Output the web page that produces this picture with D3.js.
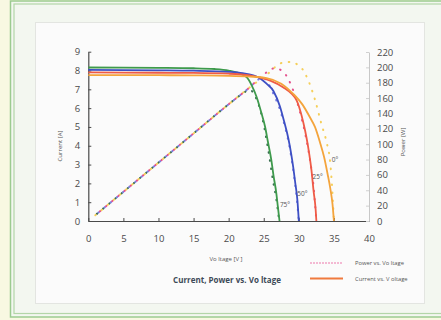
<!DOCTYPE html>
<html>
<head>
<meta charset="utf-8">
<script src="https://cdn.jsdelivr.net/npm/d3@7/dist/d3.min.js"></script>
<style>
  html, body { margin: 0; padding: 0; background: #f8f8e2; }
  svg { display: block; }
</style>
</head>
<body>
<svg id="chart" width="441" height="320"></svg>
<script>
// Temperature series labels
const temps = ["0°", "25°", "50°", "75°"];

// Current vs. voltage, one voltage list and one current list per temperature
const ivV0  = [0, 5, 10, 15, 20, 23, 25.4, 27.5, 29.2, 30.5, 31.6, 32.3, 33.0, 33.6, 34.1, 34.5, 34.8, 35.0];
const ivI0  = [7.76, 7.76, 7.75, 7.74, 7.72, 7.68, 7.6, 7.3, 6.76, 6.2, 5.5, 5.0, 4.2, 3.4, 2.5, 1.7, 0.9, 0];
const ivV25 = [0, 5, 10, 15, 20, 23, 24.5, 26, 27.8, 29.0, 29.7, 30.4, 30.9, 31.3, 31.8, 32.1, 32.4, 32.5];
const ivI25 = [7.9, 7.89, 7.88, 7.87, 7.83, 7.74, 7.62, 7.45, 7.1, 6.75, 6.4, 5.6, 4.8, 4.0, 2.7, 1.6, 0.6, 0];
const ivV50 = [0, 5, 10, 15, 20, 22, 23.5, 24.5, 25.4, 26.4, 27.3, 27.9, 28.5, 28.9, 29.2, 29.5, 29.8, 30.0];
const ivI50 = [8.03, 8.02, 8.01, 7.99, 7.93, 7.86, 7.74, 7.58, 7.3, 6.9, 6.1, 5.3, 4.4, 3.6, 2.87, 2.0, 1.1, 0];
const ivV75 = [0, 5, 10, 15, 18, 20, 21.5, 22.6, 23.3, 24.0, 24.7, 25.2, 25.6, 26.1, 26.4, 26.8, 27.0, 27.25];
const ivI75 = [8.16, 8.15, 8.14, 8.12, 8.08, 8.0, 7.86, 7.63, 7.2, 6.58, 5.7, 5.0, 4.2, 3.2, 2.4, 1.46, 0.8, 0];

// Power vs. voltage, one voltage list and one power list per temperature
const pvV0  = [1, 5, 10, 15, 20, 23, 25.9, 27.3, 28.7, 30.2, 31.3, 32.3, 33.2, 34.0, 34.4, 34.7, 35.0];
const pvP0  = [7.5, 38, 76, 114, 152, 174, 194, 205, 207, 201, 184, 158, 127, 101, 82, 50, 0];
const pvV25 = [1, 5, 10, 15, 20, 23, 24.9, 26.6, 27.8, 29.2, 30.1, 30.9, 31.6, 32.1, 32.4, 32.5];
const pvP25 = [7.6, 38, 76, 114, 152, 174, 190, 199, 194, 170, 144, 114, 79, 45, 12, 0];
const pvV50 = [1, 5, 10, 15, 20, 23, 24.2, 24.9, 25.6, 26.35, 27.1, 27.8, 28.7, 29.3, 29.7, 30.0];
const pvP50 = [7.6, 38, 76, 114, 152, 174, 184, 187, 180, 166, 150, 130, 95, 60, 30, 0];
const pvV75 = [1, 5, 10, 15, 20, 22, 23, 23.8, 24.7, 25.6, 26.35, 26.8, 27.2];
const pvP75 = [7.6, 38, 76, 114, 152, 166, 171, 162, 138, 95, 51, 28, 0];

// Axis ticks
const xTicks = [0, 5, 10, 15, 20, 25, 30, 35, 40];
const yTicks = [0, 1, 2, 3, 4, 5, 6, 7, 8, 9];
const pTicks = [0, 20, 40, 60, 80, 100, 120, 140, 160, 180, 200, 220];

// Series styling
const ivColors = ["#f4a43c", "#ef5b46", "#3d4fc4", "#3e9a4c"];
const pvColors = ["#f5cf5a", "#e4508c", "#7b7fe0", "#3a6e52"];
const ivSets = [[ivV0, ivI0], [ivV25, ivI25], [ivV50, ivI50], [ivV75, ivI75]];
const pvSets = [[pvV0, pvP0], [pvV25, pvP25], [pvV50, pvP50], [pvV75, pvP75]];
// Temperature tag positions in data units (left edge of the text)
const labelAt = [[34.7, 3.28], [31.95, 2.35], [29.77, 1.43], [27.3, 0.85]];

const svg = d3.select("#chart");
const FONT = "'Open Sans', 'Noto Sans', sans-serif";

// Frame and panel
svg.append("rect").attr("x", 10.5).attr("y", 1).attr("width", 450).attr("height", 316)
  .attr("fill", "#f3f7f0").attr("stroke", "#9ccb90").attr("stroke-width", 1.5);
svg.append("rect").attr("x", 14).attr("y", 4).attr("width", 450).attr("height", 309.5)
  .attr("fill", "none").attr("stroke", "#b3d6a8").attr("stroke-width", 1.2);
svg.append("rect").attr("x", 35.5).attr("y", 22.5).attr("width", 389).attr("height", 281)
  .attr("fill", "#fbfbfb").attr("stroke", "#e3e5e1").attr("stroke-width", 1);

const x = d3.scaleLinear().domain([0, 40]).range([88.3, 369]);
const y = d3.scaleLinear().domain([0, 9]).range([221, 51.7]);
const yP = d3.scaleLinear().domain([0, 220]).range([221, 52]);

// Axes
const gx = svg.append("g").attr("transform", "translate(0,221)")
  .call(d3.axisBottom(x).tickValues(xTicks).tickSizeInner(-3).tickSizeOuter(0).tickPadding(14));
const gy = svg.append("g").attr("transform", "translate(88.3,0)")
  .call(d3.axisLeft(y).tickValues(yTicks).tickSizeInner(-3).tickSizeOuter(0).tickPadding(8));
const gp = svg.append("g").attr("transform", "translate(369,0)")
  .call(d3.axisRight(yP).tickValues(pTicks).tickSizeInner(-3).tickSizeOuter(0).tickPadding(8));

[gx, gy].forEach(g => {
  g.select(".domain").attr("stroke", "#4a4a4a").attr("stroke-width", 1.2);
  g.selectAll(".tick line").attr("stroke", "#4a4a4a");
});
gp.select(".domain").attr("stroke", "#c8c8c8");
gp.selectAll(".tick line").attr("stroke", "#d0d0d0");
[gx, gy, gp].forEach(g => {
  g.selectAll(".tick text").attr("font-family", FONT).attr("font-size", 9.5).attr("fill", "#4a4a4a");
});

// Power curves (dotted), coolest first so the warm dots sit on top
const linePV = d3.line().x(d => x(d[0])).y(d => yP(d[1])).curve(d3.curveMonotoneX);
[3, 2, 1, 0].forEach(i => {
  const s = pvSets[i];
  const pts = s[0].map((v, k) => [v, s[1][k]]);
  svg.append("path").datum(pts).attr("d", linePV)
    .attr("fill", "none").attr("stroke", pvColors[i]).attr("stroke-width", 2)
    .attr("stroke-linecap", "round").attr("stroke-dasharray", "0.6,7.4")
    .attr("stroke-dashoffset", i * 2.0);
});

// Current curves (solid)
const lineIV = d3.line().x(d => x(d[0])).y(d => y(d[1])).curve(d3.curveMonotoneX);
[3, 2, 1, 0].forEach(i => {
  const s = ivSets[i];
  const pts = s[0].map((v, k) => [v, s[1][k]]);
  svg.append("path").datum(pts).attr("d", lineIV)
    .attr("fill", "none").attr("stroke", ivColors[i]).attr("stroke-width", 1.8);
});

// Temperature tags
temps.forEach((t, i) => {
  svg.append("text").attr("x", x(labelAt[i][0])).attr("y", y(labelAt[i][1]))
    .attr("font-family", FONT).attr("font-size", 6.5).attr("fill", "#555")
    .attr("dy", "0.35em").text(t);
});

// Axis titles
svg.append("text").attr("transform", "translate(62,146) rotate(-90)")
  .attr("text-anchor", "middle").attr("font-family", FONT).attr("font-size", 6).attr("fill", "#555")
  .text("Current [A]");
svg.append("text").attr("transform", "translate(405,142) rotate(-90)")
  .attr("text-anchor", "middle").attr("font-family", FONT).attr("font-size", 6).attr("fill", "#555")
  .text("Power [W]");
svg.append("text").attr("x", 226).attr("y", 261)
  .attr("text-anchor", "middle").attr("font-family", FONT).attr("font-size", 6).attr("fill", "#555")
  .text("Vo ltage [V ]");

// Title
svg.append("text").attr("x", 227).attr("y", 283)
  .attr("text-anchor", "middle").attr("font-family", FONT).attr("font-size", 8)
  .attr("font-weight", "bold").attr("fill", "#3e4a58")
  .text("Current, Power vs. Vo ltage");

// Legend
svg.append("line").attr("x1", 310).attr("x2", 343).attr("y1", 263).attr("y2", 263)
  .attr("stroke", "#f2a4c6").attr("stroke-width", 1.4).attr("stroke-dasharray", "2,1");
svg.append("text").attr("x", 355).attr("y", 265)
  .attr("font-family", FONT).attr("font-size", 5.8).attr("fill", "#555")
  .text("Power vs. Vo ltage");
svg.append("line").attr("x1", 310).attr("x2", 343).attr("y1", 278.5).attr("y2", 278.5)
  .attr("stroke", "#f07a3e").attr("stroke-width", 1.8);
svg.append("text").attr("x", 355).attr("y", 280.5)
  .attr("font-family", FONT).attr("font-size", 5.8).attr("fill", "#555")
  .text("Current vs. V oltage");
</script>
</body>
</html>
